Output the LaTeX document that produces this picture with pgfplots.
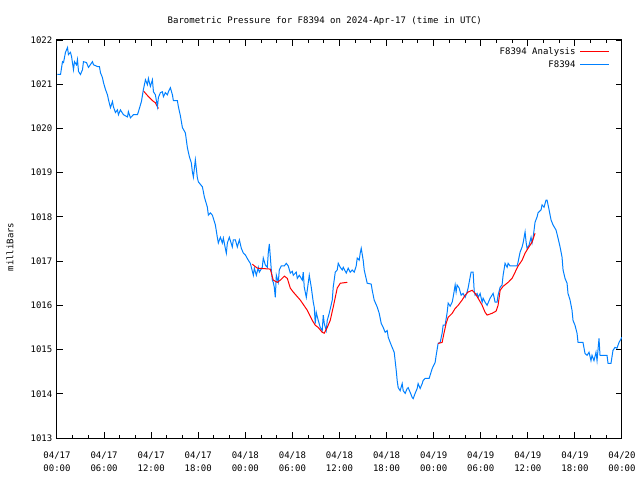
\documentclass[border=0pt]{standalone}
\usepackage{fontspec}
\setmainfont{DejaVu Sans Mono}
\usepackage{pgfplots}
\pgfplotsset{compat=1.18}
\definecolor{gpblue}{RGB}{0,128,255}
\definecolor{gpred}{RGB}{255,0,0}
\newcommand{\gpfont}{\fontsize{6.75}{9.75}\selectfont}
\begin{document}
\begin{tikzpicture}
\path[use as bounding box] (-42.75pt,-31.5pt) rectangle (437.25pt,328.5pt);
\begin{axis}[
  at={(0pt,0pt)}, anchor=south west,
  scale only axis, width=423.75pt, height=298.5pt,
  xmin=0, xmax=72, ymin=1013, ymax=1022,
  xtick={0,6,...,72},
  xticklabels={04/17\\00:00,04/17\\06:00,04/17\\12:00,04/17\\18:00,04/18\\00:00,04/18\\06:00,04/18\\12:00,04/18\\18:00,04/19\\00:00,04/19\\06:00,04/19\\12:00,04/19\\18:00,04/20\\00:00},
  minor x tick num=2,
  ytick={1013,1014,...,1022},
  yticklabel style={/pgf/number format/.cd,use comma,1000 sep={}},
  /pgf/number format/assume math mode=true,
  tick label style={font=\gpfont},
  xticklabel style={align=center, yshift=-6.5pt},
  major tick length=4.5pt, minor tick length=2.25pt,
  every tick/.style={black, line width=0.75pt},
  axis line style={line width=0.75pt},
  title={Barometric Pressure for F8394 on 2024-Apr-17 (time in UTC)},
  title style={font=\gpfont, at={(rel axis cs:0.474,1.027)}, anchor=center},
  ylabel={milliBars},
  ylabel style={font=\gpfont, at={(rel axis cs:-0.083,0.48)}, anchor=center},
  legend style={draw=none, fill=none, at={(rel axis cs:0.979,0.985)}, anchor=north east,
    font=\gpfont, legend cell align=right, inner sep=0pt,
    nodes={inner sep=1pt, text height=5pt, text depth=1pt}, row sep=1.75pt, column sep=2pt},
  legend plot pos=right,
  legend image code/.code={\draw[#1] (0pt,0pt) -- (22pt,0pt);},
]
\addplot[gpred, line width=0.75pt] coordinates {
(11.01,1020.85) (11.65,1020.72) (12.16,1020.63) (12.54,1020.58) (12.92,1020.45)
};
\addlegendentry{F8394 Analysis}
\addplot[gpblue, line width=0.75pt] coordinates {
(0.06,1021.22) (0.45,1021.22) (0.70,1021.51) (0.83,1021.49) (1.08,1021.72) (1.34,1021.83) (1.46,1021.67) (1.72,1021.72) (1.85,1021.63) (2.10,1021.33)
(2.23,1021.51) (2.48,1021.44) (2.61,1021.56) (2.74,1021.29) (2.99,1021.22) (3.25,1021.33) (3.37,1021.51) (3.76,1021.49) (4.01,1021.38) (4.52,1021.51)
(4.65,1021.44) (5.16,1021.40) (5.41,1021.40) (5.54,1021.26) (5.79,1021.15) (5.92,1021.04) (6.18,1020.88) (6.43,1020.76) (6.56,1020.65) (6.81,1020.47)
(7.07,1020.61) (7.19,1020.49) (7.45,1020.36) (7.70,1020.42) (7.83,1020.31) (8.08,1020.42) (8.47,1020.31) (8.98,1020.26) (9.10,1020.38) (9.36,1020.24)
(9.74,1020.31) (10.25,1020.31) (10.38,1020.38) (10.76,1020.61) (11.01,1020.88) (11.27,1021.10) (11.52,1020.99) (11.65,1021.13) (11.90,1020.95) (12.16,1021.10)
(12.29,1020.83) (12.54,1020.76) (12.80,1020.49) (12.92,1020.70) (13.18,1020.81) (13.43,1020.83) (13.56,1020.72) (13.81,1020.81) (14.07,1020.76) (14.20,1020.83)
(14.45,1020.92) (14.71,1020.76) (14.83,1020.63) (15.34,1020.63) (15.47,1020.49) (15.72,1020.29) (15.98,1020.02) (16.36,1019.90) (16.62,1019.56) (16.87,1019.36)
(17.12,1019.22) (17.25,1019.02) (17.38,1018.90) (17.63,1019.29) (17.89,1018.88) (18.02,1018.79) (18.53,1018.68) (18.78,1018.45) (19.16,1018.22) (19.29,1018.04)
(19.54,1018.09) (19.80,1018.04) (20.18,1017.82) (20.43,1017.54) (20.56,1017.41) (20.82,1017.54) (21.07,1017.41) (21.20,1017.52) (21.45,1017.29) (21.58,1017.18)
(21.71,1017.41) (21.96,1017.54) (22.34,1017.32) (22.47,1017.48) (22.73,1017.48) (22.98,1017.32) (23.24,1017.48) (23.49,1017.29) (23.75,1017.18) (24.00,1017.14)
(24.38,1017.02) (24.64,1016.95) (25.02,1016.68) (25.15,1016.84) (25.40,1016.68) (25.65,1016.86) (25.78,1016.75) (26.16,1016.86) (26.29,1017.07) (26.55,1016.91)
(26.80,1016.86) (26.93,1017.20) (27.06,1017.39) (27.31,1016.80) (27.44,1016.57) (27.56,1016.52) (27.69,1016.41) (27.82,1016.18) (27.95,1016.68) (28.20,1016.52)
(28.33,1016.80) (28.58,1016.89) (28.97,1016.89) (29.22,1016.95) (29.47,1016.89) (29.73,1016.73) (29.98,1016.77) (30.11,1016.68) (30.49,1016.75) (30.62,1016.61)
(30.88,1016.68) (31.26,1016.57) (31.38,1016.75) (31.51,1016.41) (31.77,1016.18) (31.89,1016.34) (32.15,1016.68) (32.40,1016.41) (32.66,1016.07) (32.78,1015.96)
(32.91,1015.59) (33.04,1015.84) (33.29,1015.66) (33.55,1015.50) (33.80,1015.43) (33.93,1015.78) (34.06,1015.59) (34.31,1015.43) (34.44,1015.66) (34.69,1015.82)
(35.08,1016.12) (35.20,1016.41) (35.46,1016.75) (35.71,1016.80) (35.84,1016.95) (36.10,1016.86) (36.35,1016.80) (36.48,1016.86) (36.86,1016.73) (37.11,1016.84)
(37.37,1016.75) (37.62,1016.80) (37.88,1016.75) (38.13,1016.89) (38.26,1017.07) (38.51,1017.02) (38.64,1017.18) (38.77,1017.29) (39.02,1017.02) (39.15,1016.80)
(39.53,1016.50) (40.04,1016.48) (40.17,1016.34) (40.42,1016.12) (40.81,1015.96) (41.06,1015.82) (41.32,1015.59) (41.57,1015.50) (41.82,1015.39) (42.08,1015.43)
(42.21,1015.28) (42.46,1015.16) (42.71,1015.05) (42.97,1014.94) (43.23,1014.53) (43.35,1014.30) (43.48,1014.14) (43.73,1014.07) (43.99,1014.23) (44.12,1014.07)
(44.37,1014.01) (44.63,1014.12) (44.75,1014.14) (45.01,1014.03) (45.26,1013.92) (45.39,1013.89) (45.64,1014.01) (45.90,1014.12) (46.02,1014.23) (46.28,1014.12)
(46.54,1014.23) (46.66,1014.30) (46.92,1014.35) (47.43,1014.35) (47.81,1014.57) (48.19,1014.71) (48.32,1014.87) (48.57,1015.14) (48.83,1015.16) (49.08,1015.37)
(49.21,1015.55) (49.46,1015.55) (49.72,1015.84) (49.85,1016.05) (50.10,1015.98) (50.36,1016.07) (50.48,1016.18) (50.74,1016.46) (50.86,1016.30) (50.99,1016.46)
(51.25,1016.39) (51.50,1016.23) (51.75,1016.27) (52.01,1016.18) (52.26,1016.30) (52.39,1016.39) (52.65,1016.64) (52.77,1016.75) (53.03,1016.75) (53.16,1016.34)
(53.28,1016.23) (53.54,1016.27) (53.67,1016.18) (53.92,1016.27) (54.18,1016.07) (54.30,1016.16) (54.56,1016.07) (54.81,1016.00) (55.19,1016.16) (55.58,1016.27)
(55.70,1016.18) (55.83,1016.07) (56.08,1016.07) (56.21,1016.23) (56.47,1016.41) (56.72,1016.46) (56.85,1016.68) (57.10,1016.95) (57.36,1016.86) (57.49,1016.95)
(57.74,1016.89) (58.63,1016.89) (58.76,1016.98) (59.01,1017.20) (59.27,1017.32) (59.40,1017.41) (59.65,1017.66) (59.78,1017.43) (59.90,1017.29) (60.16,1017.36)
(60.41,1017.54) (60.54,1017.41) (60.67,1017.52) (60.92,1017.88) (61.18,1018.00) (61.30,1018.09) (61.69,1018.16) (61.81,1018.27) (62.07,1018.22) (62.32,1018.38)
(62.45,1018.38) (62.71,1018.16) (62.96,1017.93) (63.21,1017.82) (63.60,1017.70) (63.85,1017.52) (64.11,1017.32) (64.36,1017.09) (64.49,1016.80) (64.74,1016.61)
(65.00,1016.50) (65.12,1016.27) (65.38,1016.12) (65.63,1015.89) (65.76,1015.66) (66.01,1015.55) (66.27,1015.37) (66.40,1015.16) (67.03,1015.16) (67.29,1014.91)
(67.55,1014.87) (67.80,1014.94) (68.05,1014.75) (68.18,1014.87) (68.43,1014.75) (68.69,1014.94) (68.82,1014.75) (69.07,1015.25) (69.20,1014.87) (70.09,1014.87)
(70.22,1014.69) (70.60,1014.69) (70.85,1014.98) (71.11,1015.05) (71.36,1015.03) (71.62,1015.16) (72.00,1015.28)
};
\addlegendentry{F8394}
\addplot[gpred, line width=0.75pt, forget plot] coordinates {
(24.89,1016.93) (25.53,1016.84) (27.18,1016.82) (27.56,1016.57) (28.07,1016.52) (28.46,1016.57) (28.97,1016.66) (29.35,1016.61) (29.73,1016.39) (30.11,1016.30)
(31.00,1016.12) (31.89,1015.89) (32.53,1015.66) (32.91,1015.55) (33.29,1015.50) (33.80,1015.39) (34.06,1015.37) (34.44,1015.50) (34.82,1015.66) (35.20,1015.96)
(35.71,1016.39) (36.10,1016.50) (36.99,1016.52)
};
\addplot[gpred, line width=0.75pt, forget plot] coordinates {
(48.57,1015.14) (49.08,1015.16) (49.34,1015.39) (49.59,1015.59) (49.85,1015.73) (50.36,1015.82) (50.74,1015.93) (51.12,1016.00) (51.63,1016.12) (52.01,1016.23)
(52.39,1016.30) (52.90,1016.34) (53.28,1016.27) (53.67,1016.16) (54.18,1016.00) (54.56,1015.84) (54.81,1015.78) (55.45,1015.82) (55.96,1015.87) (56.21,1016.00)
(56.47,1016.34) (56.85,1016.43) (57.49,1016.52) (57.99,1016.61) (58.38,1016.75) (58.76,1016.89) (59.27,1017.02) (59.65,1017.18) (60.03,1017.29) (60.54,1017.43)
(60.92,1017.63)
};
\end{axis}
\end{tikzpicture}
\end{document}
